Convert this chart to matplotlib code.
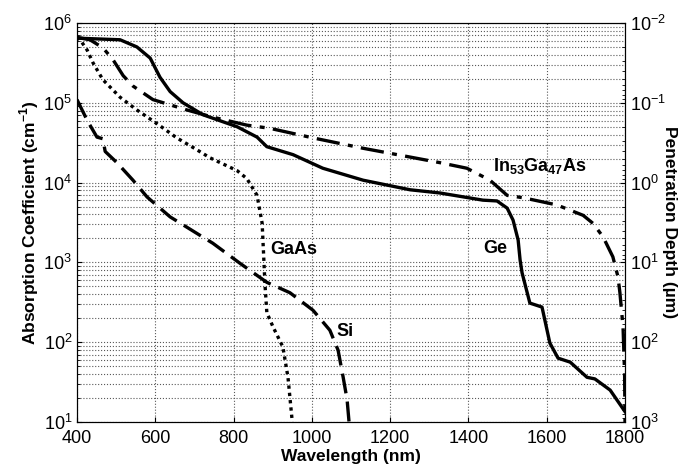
import matplotlib
matplotlib.use('Agg')

import matplotlib.pyplot as plt
import numpy as np

plt.rcParams['font.family'] = ['Liberation Sans', 'DejaVu Sans']
plt.rcParams['mathtext.fontset'] = 'custom'
plt.rcParams['mathtext.rm'] = 'Liberation Sans'
plt.rcParams['mathtext.bf'] = 'Liberation Sans:bold'

# Absorption coefficient curves (wavelength nm, log10 alpha cm^-1)
ge_wl = [400, 510, 553, 587, 612, 638, 671, 722, 809, 860, 885, 952, 1028, 1131, 1251,
         1327, 1437, 1473, 1499, 1514, 1527, 1532, 1537, 1557, 1588, 1608, 1629, 1660,
         1703, 1723, 1762, 1800]
ge_log = [5.81, 5.79, 5.70, 5.56, 5.32, 5.14, 5.00, 4.85, 4.70, 4.57, 4.45, 4.35, 4.18,
          4.03, 3.91, 3.87, 3.78, 3.77, 3.68, 3.53, 3.28, 3.03, 2.87, 2.49, 2.44, 1.99,
          1.80, 1.75, 1.56, 1.54, 1.40, 1.13]

ingaas_wl = [400, 433, 466, 492, 518, 543, 594, 681, 747, 834, 893, 1003, 1131, 1251,
             1327, 1396, 1455, 1499, 1540, 1626, 1693, 1718, 1744, 1769, 1782, 1787,
             1795, 1799, 1800]
ingaas_log = [5.82, 5.79, 5.69, 5.54, 5.34, 5.21, 5.04, 4.91, 4.82, 4.72, 4.68, 4.56,
              4.43, 4.32, 4.25, 4.18, 4.03, 3.84, 3.81, 3.72, 3.59, 3.49, 3.32, 3.07,
              2.82, 2.62, 2.19, 1.60, 1.0]

gaas_wl = [400, 408, 426, 441, 466, 510, 553, 604, 655, 700, 740, 809, 834, 860, 873,
           877, 880, 885, 901, 926, 939, 950]
gaas_log = [5.82, 5.79, 5.66, 5.50, 5.29, 5.07, 4.91, 4.74, 4.56, 4.43, 4.31, 4.15,
            4.05, 3.84, 3.49, 3.07, 2.74, 2.37, 2.19, 1.94, 1.56, 1.0]

si_wl = [400, 426, 451, 466, 472, 502, 543, 579, 638, 681, 747, 816, 885, 944, 1003,
         1046, 1067, 1080, 1090, 1095]
si_log = [5.04, 4.78, 4.57, 4.55, 4.39, 4.25, 4.03, 3.82, 3.57, 3.44, 3.24, 2.99, 2.75,
          2.62, 2.40, 2.15, 1.90, 1.56, 1.28, 1.0]

fig = plt.figure(figsize=(6.92, 4.68), dpi=100)
ax = fig.add_axes([77 / 692, 1 - 422 / 468, 548 / 692, 399 / 468])

lw = 2.4
ax.plot(ge_wl, 10 ** np.array(ge_log), color='black', lw=lw, ls='-')
ax.plot(ingaas_wl, 10 ** np.array(ingaas_log), color='black', lw=lw, ls=(0, (7, 2.5, 1.5, 2.5)))
ax.plot(gaas_wl, 10 ** np.array(gaas_log), color='black', lw=lw, ls=(0, (1, 1.2)))
ax.plot(si_wl, 10 ** np.array(si_log), color='black', lw=lw, ls=(0, (6, 2.5)))

ax.set_xlim(400, 1800)
ax.set_yscale('log')
ax.set_ylim(1e1, 1e6)
ax.set_xticks(np.arange(400, 1801, 200))

ax.grid(True, which='major', axis='both', color='0.35', ls=':', lw=0.8)
ax.grid(True, which='minor', axis='y', color='0.35', ls=':', lw=0.8)
ax.tick_params(which='both', direction='in', labelsize=13)
ax.tick_params(axis='x', pad=6)

ax.set_xlabel('Wavelength (nm)', fontsize=12.5, fontweight='bold', labelpad=1)
ax.set_ylabel(r'Absorption Coefficient (cm$^{\mathbf{-1}}$)', fontsize=12.5,
              fontweight='bold', labelpad=2)

ax2 = ax.twinx()
ax2.set_yscale('log')
ax2.set_ylim(1e3, 1e-2)
ax2.tick_params(which='both', direction='in', labelsize=13)
ax2.set_ylabel('Penetration Depth (µm)', fontsize=12.5, fontweight='bold',
               rotation=270, labelpad=8)

fs = 13
ax.text(893, 1450, 'GaAs', fontsize=fs, fontweight='bold', va='center', ha='left')
ax.text(1062, 138, 'Si', fontsize=fs, fontweight='bold', va='center', ha='left')
ax.text(1437, 1510, 'Ge', fontsize=fs, fontweight='bold', va='center', ha='left')
ax.text(1463, 16000, r'$\mathbf{In_{53}Ga_{47}As}$', fontsize=fs, va='center', ha='left')

fig.savefig('out.png', dpi=100)
